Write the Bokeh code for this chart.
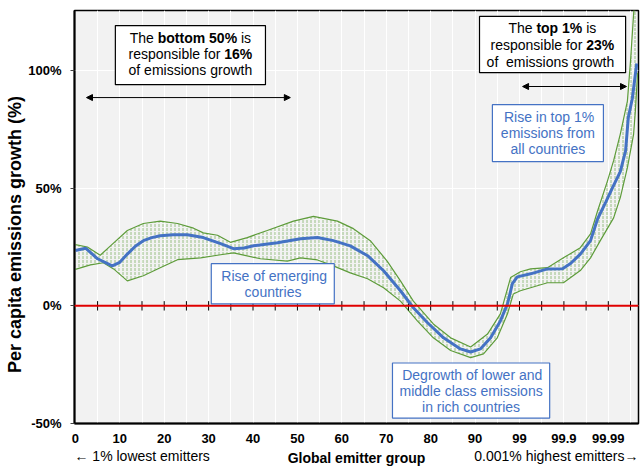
from bokeh.plotting import figure
from bokeh.models import (Span, Label, Arrow, NormalHead, FixedTicker, Range1d,
                          BoxAnnotation, LinearAxis)
from bokeh.embed import file_html
from bokeh.resources import INLINE

# ---------------- data ----------------
group_labels = ["0", "10", "20", "30", "40", "50", "60", "70", "80", "90",
                "99", "99.9", "99.99"]
y_ticks = [-50, 0, 50, 100]

# x is the position on the (non-linear) emitter-group axis: 0 -> "0", 10 -> "99", 12 -> "99.99"
median_x = [0.00, 0.23, 0.50, 0.83, 1.00, 1.17, 1.35, 1.53, 1.72, 1.91, 2.20, 2.52, 2.88, 3.27,
            3.56, 3.80, 4.01, 4.55, 5.07, 5.45, 5.81, 6.19, 6.58, 6.94, 7.32,
            7.61, 7.93, 8.29, 8.67, 8.90, 9.12, 9.35, 9.57, 9.73, 9.84,
            9.95, 10.25, 10.63, 10.97, 11.15, 11.37, 11.60, 11.76, 11.94, 12.09,
            12.27, 12.39, 12.45, 12.54, 12.64]
median_y = [23.5, 24.5, 20, 17, 18.5, 22, 25.3, 27.7, 29.0, 29.8, 30.2, 30.2, 29, 26.4,
            24.3, 24.6, 25.5, 26.8, 28.5, 29, 27.7, 25.5, 21.3, 14.9, 6.4,
            -0.8, -7.2, -13.6, -18.3, -19.6, -18.3, -13.6, -6.4, 0.8, 9.4,
            12.3, 13.6, 15.7, 15.8, 18, 22, 27.7, 37, 44, 50,
            57, 66, 80, 88, 103]

upper_x = [0.00, 0.27, 0.56, 0.79, 1.17, 1.53, 1.91, 2.30, 2.66, 2.88,
           3.20, 3.49, 3.87, 4.32, 4.91, 5.36, 5.90, 6.26, 6.64, 7.02,
           7.32, 7.61, 8.06, 8.45, 8.90, 9.28, 9.57, 9.80, 10.02, 10.25,
           10.63, 10.99, 11.37, 11.60, 11.76, 11.98, 12.12, 12.27, 12.43, 12.50,
           12.57, 12.64]
upper_y = [26, 25, 21.5, 25.5, 32, 35, 36, 35, 33, 31,
           30, 27, 29, 32, 36, 38, 36, 32.8, 27.7, 19,
           10.6, 2, -7.7, -13.6, -17.5, -12, -3.4, 12, 14.5, 15.7,
           16.2, 20.4, 24.7, 30.6, 40.4, 53, 61.7, 73, 87, 104,
           124, 140]

lower_x = [0.00, 0.34, 0.63, 0.86, 1.17, 1.53, 1.91, 2.30, 2.82, 3.27,
           3.56, 4.17, 4.77, 5.07, 5.45, 5.81, 6.19, 6.58, 6.94, 7.32,
           7.70, 8.06, 8.45, 8.90, 9.19, 9.50, 9.73, 9.86, 10.02, 10.25,
           10.63, 10.99, 11.37, 11.60, 11.82, 12.12, 12.27, 12.43, 12.57, 12.61,
           12.66]
lower_y = [15.5, 17.4, 18.3, 15.7, 10.6, 12.8, 16.2, 19.6, 20.4, 21.7,
           22.5, 20, 19, 20.4, 19.5, 17, 14, 11.5, 7.7, 2,
           -6.4, -13.6, -19, -22, -20.4, -13.6, -3.4, 5, 6.4, 7.7,
           9.8, 9.8, 15, 20.4, 27.7, 37.4, 46, 58.7, 73, 83,
           99]

side_texts = ["\u2190 1% lowest emitters", "0.001% highest emitters\u2192"]

# ---------------- styling ----------------
FONT = "Liberation Sans"
BLUE = "#4472c4"
GREEN = "#5e9c3a"
X0, X1 = -0.02, 12.68
PX_PER_UNIT = 564 / (X1 - X0)

p = figure(width=641, height=470, output_backend="svg", toolbar_location=None,
           x_range=Range1d(X0, X1), y_range=Range1d(-50, 125.5),
           min_border_left=74, min_border_right=3, min_border_top=10,
           min_border_bottom=47)
p.background_fill_color = "#f2f2f2"
p.border_fill_color = "white"
p.outline_line_color = "black"
p.outline_line_width = 1.5

# grid
half_ticks = [i * 0.5 for i in range(1, 2 * len(group_labels))]
p.xgrid.ticker = FixedTicker(ticks=half_ticks)
p.xgrid.grid_line_color = "white"
p.xgrid.grid_line_width = 1
p.ygrid.ticker = FixedTicker(ticks=y_ticks)
p.ygrid.grid_line_color = "white"
p.ygrid.grid_line_width = 1

# x axis (numbers)
xa = p.xaxis[0]
xa.ticker = FixedTicker(ticks=list(range(len(group_labels))))
xa.major_label_overrides = {i: lab for i, lab in enumerate(group_labels)}
xa.major_tick_out = 0
xa.major_tick_in = 0
xa.minor_tick_out = 0
xa.minor_tick_in = 0
xa.axis_line_width = 2
xa.axis_line_color = "black"
xa.major_label_text_font = FONT
xa.major_label_text_font_size = "13px"
xa.major_label_text_font_style = "bold"
xa.major_label_text_color = "black"
xa.major_label_standoff = 10

W_REG = {' ': 278, '%': 889, '.': 278, 'T': 611, 'a': 556, 'b': 556, 'c': 500,
         'd': 556, 'e': 556, 'f': 278, 'g': 556, 'h': 556, 'i': 222, 'l': 222,
         'm': 833, 'n': 556, 'o': 556, 'p': 556, 'r': 333, 's': 500, 't': 278,
         'u': 556, 'w': 722, 'y': 500, '\u2190': 1000, '\u2192': 1000}
W_BOLD = {' ': 278, '%': 889, '.': 278, 'T': 611, 'b': 611, 'o': 611,
          't': 333, 'm': 889, 'p': 611}


def tw(s, bold, size):
    t = W_BOLD if bold else W_REG
    return sum(t.get(c, 556) for c in s) * size / 1000.0


# second axis row: side texts as tick labels and the bold axis title on the same row
left_c = X0 + tw(side_texts[0], False, 14) / 2 / PX_PER_UNIT
right_c = X1 - tw(side_texts[1], False, 14) / 2 / PX_PER_UNIT
xb = LinearAxis(ticker=FixedTicker(ticks=[left_c, right_c]))
xb.major_label_overrides = {left_c: side_texts[0], right_c: side_texts[1]}
xb.axis_line_color = None
xb.major_tick_line_color = None
xb.minor_tick_line_color = None
xb.major_tick_out = 0
xb.major_tick_in = 0
xb.minor_tick_out = 0
xb.minor_tick_in = 0
xb.major_label_standoff = 2
xb.major_label_text_font = FONT
xb.major_label_text_font_size = "14px"
xb.major_label_text_font_style = "normal"
xb.major_label_text_color = "black"
xb.axis_label = "Global emitter group"
xb.axis_label_text_font = FONT
xb.axis_label_text_font_size = "14px"
xb.axis_label_text_font_style = "bold"
xb.axis_label_text_color = "black"
xb.axis_label_standoff = -17
p.add_layout(xb, "below")

# y axis
ya = p.yaxis[0]
ya.ticker = FixedTicker(ticks=y_ticks)
ya.major_label_overrides = {v: f"{v}%" for v in y_ticks}
ya.major_tick_out = 4
ya.major_tick_in = 0
ya.minor_tick_out = 0
ya.minor_tick_in = 0
ya.major_tick_line_color = "#404040"
ya.axis_line_width = 2
ya.axis_line_color = "black"
ya.major_label_text_font = FONT
ya.major_label_text_font_size = "13px"
ya.major_label_text_font_style = "bold"
ya.major_label_text_color = "black"
ya.major_label_standoff = 9
ya.axis_label = "Per capita emissions growth (%)" + "\u00a0" * 7
ya.axis_label_text_font = FONT
ya.axis_label_text_font_size = "18px"
ya.axis_label_text_font_style = "bold"
ya.axis_label_text_color = "black"
ya.axis_label_standoff = 0

# uncertainty band
p.patch(x=upper_x + lower_x[::-1], y=upper_y + lower_y[::-1],
        fill_alpha=0, line_alpha=0,
        hatch_pattern=":", hatch_color=GREEN, hatch_scale=4, hatch_weight=1,
        hatch_alpha=0.6)
p.line(upper_x, upper_y, line_color=GREEN, line_width=1.2)
p.line(lower_x, lower_y, line_color=GREEN, line_width=1.2)

# zero line with its small tick marks
p.segment(x0=half_ticks, x1=half_ticks, y0=[-2] * len(half_ticks),
          y1=[2] * len(half_ticks), line_color="black", line_width=1)
p.add_layout(Span(location=0, dimension="width", line_color="#e00000",
                  line_width=2))

# median line
p.line(median_x, median_y, line_color=BLUE, line_width=3)


# ---------------- annotations ----------------
def rich_line(cx, cy, tokens, size=14, color="black"):
    total = sum(tw(s, b, size) for s, b in tokens)
    off = -total / 2.0
    for s, b in tokens:
        lead = len(s) - len(s.lstrip(' '))
        core = s.strip(' ')
        if core:
            p.add_layout(Label(x=cx, y=cy, x_offset=off + tw(s[:lead], b, size),
                               text=core, text_align="left",
                               text_baseline="middle", text_font=FONT,
                               text_font_size=f"{size}px",
                               text_font_style="bold" if b else "normal",
                               text_color=color))
        off += tw(s, b, size)


def box(l, r, t, b, color):
    p.add_layout(BoxAnnotation(left=l, right=r, top=t, bottom=b,
                               fill_color="white", fill_alpha=1,
                               line_color=color, line_width=1.2, line_alpha=1))


def dbl_arrow(x0, x1, y):
    p.add_layout(Arrow(start=NormalHead(size=6, fill_color="black", line_color="black"),
                       end=NormalHead(size=6, fill_color="black", line_color="black"),
                       x_start=x0, y_start=y, x_end=x1, y_end=y,
                       line_color="black", line_width=1))


# bottom 50% box
box(0.90, 4.28, 119.1, 94.0, "black")
rich_line(2.59, 114.0, [("The ", False), ("bottom 50%", True), (" is", False)])
rich_line(2.59, 107.2, [("responsible for ", False), ("16%", True)])
rich_line(2.59, 100.4, [("of emissions growth", False)])
dbl_arrow(0.25, 4.84, 88.5)

# top 1% box
box(9.10, 12.39, 123.0, 99.1, "black")
rich_line(10.74, 117.9, [("The ", False), ("top 1%", True), (" is", False)])
rich_line(10.74, 111.0, [("responsible for ", False), ("23%", True)])
rich_line(10.74, 103.8, [("of\u00a0 emissions growth", False)])
dbl_arrow(10.07, 12.41, 93.2)

# blue annotation boxes
box(9.39, 11.89, 85.5, 61.3, BLUE)
rich_line(10.64, 80.4, [("Rise in top 1%", False)], color=BLUE)
rich_line(10.64, 73.6, [("emissions from", False)], color=BLUE)
rich_line(10.64, 66.8, [("all countries", False)], color=BLUE)

box(3.06, 5.83, 17.9, 0.85, BLUE)
rich_line(4.45, 12.8, [("Rise of emerging", False)], color=BLUE)
rich_line(4.45, 6.0, [("countries", False)], color=BLUE)

box(7.14, 10.68, -24.3, -47.7, BLUE)
rich_line(8.91, -29.4, [("Degrowth of lower and", False)], color=BLUE)
rich_line(8.91, -36.2, [("middle class emissions", False)], color=BLUE)
rich_line(8.91, -43.0, [("in rich countries", False)], color=BLUE)

open("out.html", "w").write(file_html(p, INLINE))
